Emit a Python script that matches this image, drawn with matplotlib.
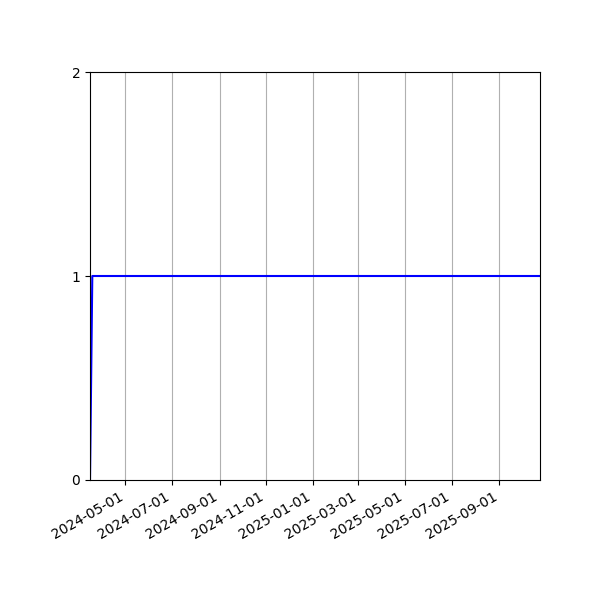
import matplotlib
matplotlib.use("Agg")
import matplotlib.pyplot as plt
import matplotlib.dates as mdates
import pandas as pd

dates = ["2024-03-16", "2024-03-19", "2025-10-24"]
values = [0, 1, 1]
tick_dates = ["2024-05-01", "2024-07-01", "2024-09-01", "2024-11-01", "2025-01-01",
              "2025-03-01", "2025-05-01", "2025-07-01", "2025-09-01"]

x = pd.to_datetime(dates)
fig, ax = plt.subplots(figsize=(6, 6), dpi=100)
ax.plot(x, values, color="blue", linewidth=1.5)
ax.set_xlim(x.min(), x.max())
ax.set_ylim(0, 2)
ax.set_yticks([0, 1, 2])
ax.set_xticks(pd.to_datetime(tick_dates))
ax.xaxis.set_major_formatter(mdates.DateFormatter("%Y-%m-%d"))
ax.grid(axis="x", color="#b0b0b0", linewidth=0.8)
fig.autofmt_xdate()
fig.subplots_adjust(left=0.15, right=0.9, top=0.88, bottom=0.2)
fig.savefig("out.png", dpi=100)
